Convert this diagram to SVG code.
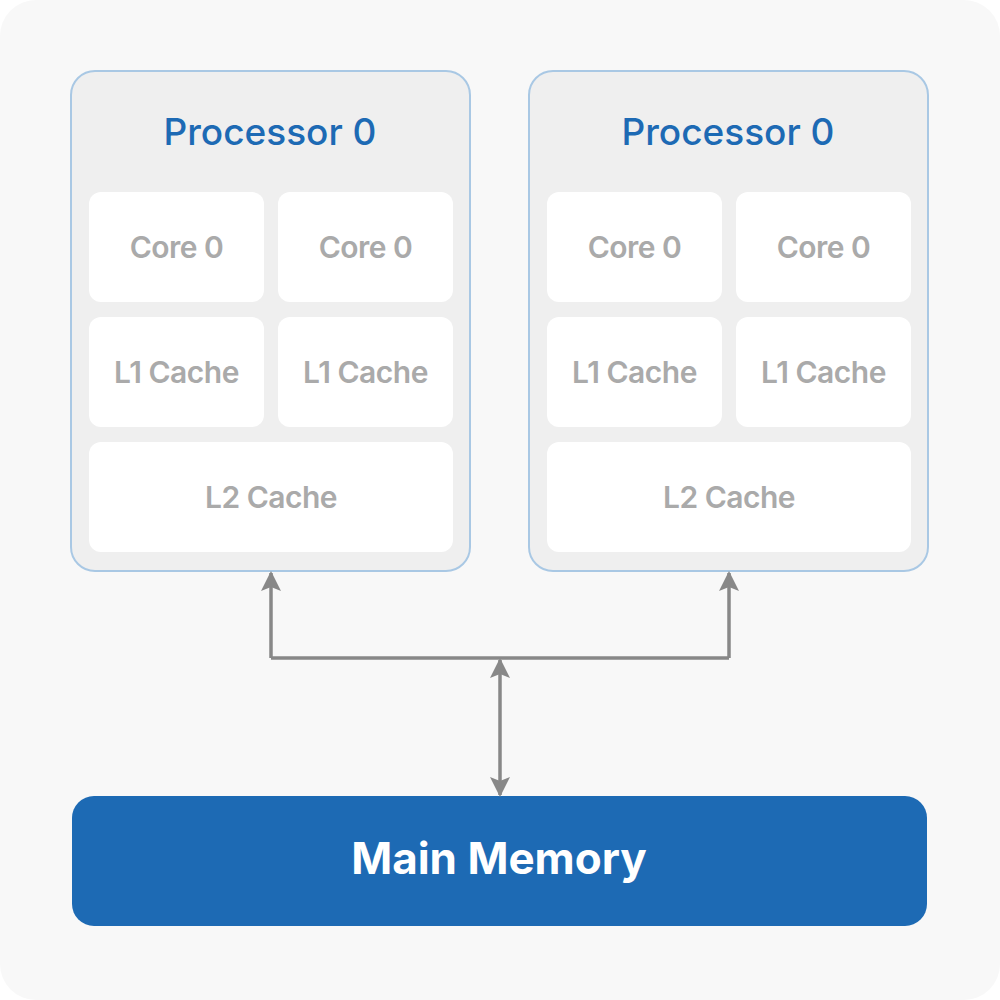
<svg xmlns="http://www.w3.org/2000/svg" width="1000" height="1000" viewBox="0 0 1000 1000">
<defs>
<style>
.proc{fill:#efefef;stroke:#a9c8e4;stroke-width:2}
.box{fill:#ffffff}
.ptitle{font-family:Inter,"Noto Sans",sans-serif;font-size:37px;font-weight:500;fill:#1d6ab4;text-anchor:middle}
.lbl{font-family:Inter,"Noto Sans",sans-serif;font-size:30px;font-weight:600;fill:#aaaaaa;text-anchor:middle;letter-spacing:-0.5px}
.mem{font-family:Inter,"Noto Sans",sans-serif;font-size:44px;font-weight:700;fill:#ffffff;text-anchor:middle}
.wire{fill:none;stroke:#888888;stroke-width:3.5}
</style>
<marker id="ah" viewBox="0 0 20 20" refX="18" refY="10" markerWidth="20" markerHeight="20" markerUnits="userSpaceOnUse" orient="auto-start-reverse">
<path d="M0,0 L20,10 L0,20 L4,10 Z" fill="#888888"/>
</marker>
</defs>
<rect x="0" y="0" width="1000" height="1000" rx="36" fill="#f8f8f8"/>
<g id="processor-left">
<rect class="proc" x="71" y="71" width="399" height="500" rx="24"/>
<text class="ptitle" x="270" y="145">Processor 0</text>
<rect class="box" x="89" y="192" width="175" height="110" rx="12"/>
<text class="lbl" x="176.5" y="258">Core 0</text>
<rect class="box" x="278" y="192" width="175" height="110" rx="12"/>
<text class="lbl" x="365.5" y="258">Core 0</text>
<rect class="box" x="89" y="317" width="175" height="110" rx="12"/>
<text class="lbl" x="176.5" y="383">L1 Cache</text>
<rect class="box" x="278" y="317" width="175" height="110" rx="12"/>
<text class="lbl" x="365.5" y="383">L1 Cache</text>
<rect class="box" x="89" y="442" width="364" height="110" rx="12"/>
<text class="lbl" x="271" y="508">L2 Cache</text>
</g>
<g id="processor-right">
<rect class="proc" x="529" y="71" width="399" height="500" rx="24"/>
<text class="ptitle" x="728" y="145">Processor 0</text>
<rect class="box" x="547" y="192" width="175" height="110" rx="12"/>
<text class="lbl" x="634.5" y="258">Core 0</text>
<rect class="box" x="736" y="192" width="175" height="110" rx="12"/>
<text class="lbl" x="823.5" y="258">Core 0</text>
<rect class="box" x="547" y="317" width="175" height="110" rx="12"/>
<text class="lbl" x="634.5" y="383">L1 Cache</text>
<rect class="box" x="736" y="317" width="175" height="110" rx="12"/>
<text class="lbl" x="823.5" y="383">L1 Cache</text>
<rect class="box" x="547" y="442" width="364" height="110" rx="12"/>
<text class="lbl" x="729" y="508">L2 Cache</text>
</g>
<g id="main-memory">
<rect x="72" y="796" width="855" height="130" rx="22" fill="#1d6ab4"/>
<text class="mem" x="499" y="874">Main Memory</text>
</g>
<g id="connectors">
<path class="wire" d="M271,658 L271,573" marker-end="url(#ah)"/>
<path class="wire" d="M729,658 L729,573" marker-end="url(#ah)"/>
<path class="wire" d="M271,658 L729,658"/>
<path class="wire" d="M500,660 L500,795" marker-start="url(#ah)" marker-end="url(#ah)"/>
</g>
</svg>
